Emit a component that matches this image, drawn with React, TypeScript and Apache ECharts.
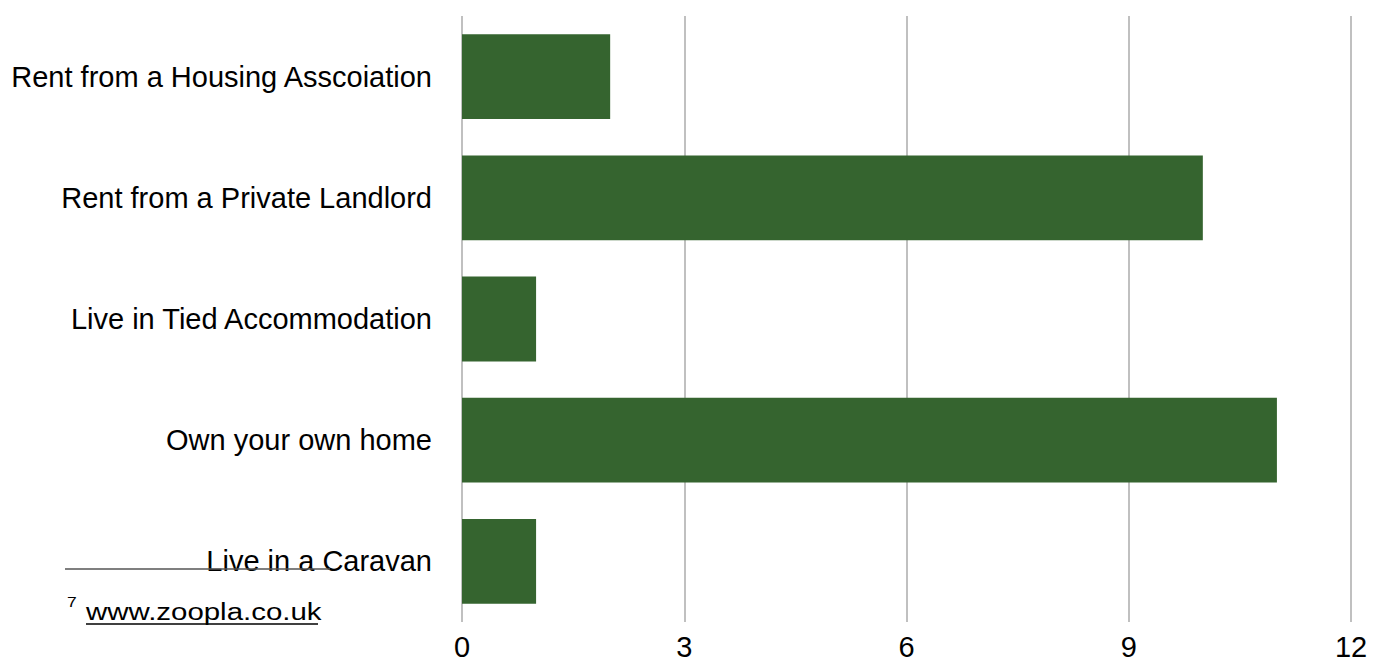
import React, { useEffect, useRef } from "react";
import * as echarts from "echarts";

const categories = [
  "Live in a Caravan",
  "Own your own home",
  "Live in Tied Accommodation",
  "Rent from a Private Landlord",
  "Rent from a Housing Asscoiation",
];
const values = [1, 11, 1, 10, 2];
const axisMin = 0;
const axisMax = 12;
const axisStep = 3;

const FONT = "'Liberation Sans', Arial, Helvetica, sans-serif";

export default function App() {
  const ref = useRef<HTMLDivElement>(null);

  useEffect(() => {
    if (!ref.current) return;
    const chart = echarts.init(ref.current, undefined, { renderer: "svg" });
    chart.setOption({
      animation: false,
      grid: {
        left: 462,
        right: 29,
        top: 16,
        bottom: 39,
        containLabel: false,
        outerBoundsMode: "none",
      },
      xAxis: {
        type: "value",
        min: axisMin,
        max: axisMax,
        interval: axisStep,
        axisLine: { show: false },
        axisTick: { show: false },
        axisLabel: { color: "#000", fontSize: 29, fontFamily: FONT, margin: 10 },
        splitLine: { show: true, lineStyle: { color: "#c0c0c0", width: 2 } },
      },
      yAxis: {
        type: "category",
        data: categories,
        axisLine: { show: false },
        axisTick: { show: false },
        axisLabel: { color: "#000", fontSize: 29, fontFamily: FONT, margin: 30 },
      },
      series: [
        {
          type: "bar",
          data: values,
          barCategoryGap: "30%",
          itemStyle: { color: "#35642f" },
        },
      ],
      graphic: [
        {
          type: "line",
          shape: { x1: 65, y1: 569, x2: 330, y2: 569 },
          style: { stroke: "#555", lineWidth: 1.5 },
          z: 100,
        },
        {
          type: "text",
          x: 67,
          y: 609,
          scaleX: 1.25,
          style: { text: "7", fontSize: 14, fontFamily: FONT, fill: "#000", textVerticalAlign: "bottom" },
        },
        {
          type: "text",
          x: 86,
          y: 624,
          scaleX: 1.28,
          style: { text: "www.zoopla.co.uk", fontSize: 23, fontFamily: FONT, fill: "#000", textVerticalAlign: "bottom" },
        },
        {
          type: "line",
          shape: { x1: 86, y1: 624, x2: 318, y2: 624 },
          style: { stroke: "#000", lineWidth: 1.5 },
        },
      ],
    });
    return () => chart.dispose();
  }, []);

  return <div ref={ref} style={{ position: "absolute", left: 0, top: 0, width: 1380, height: 661 }} />;
}
